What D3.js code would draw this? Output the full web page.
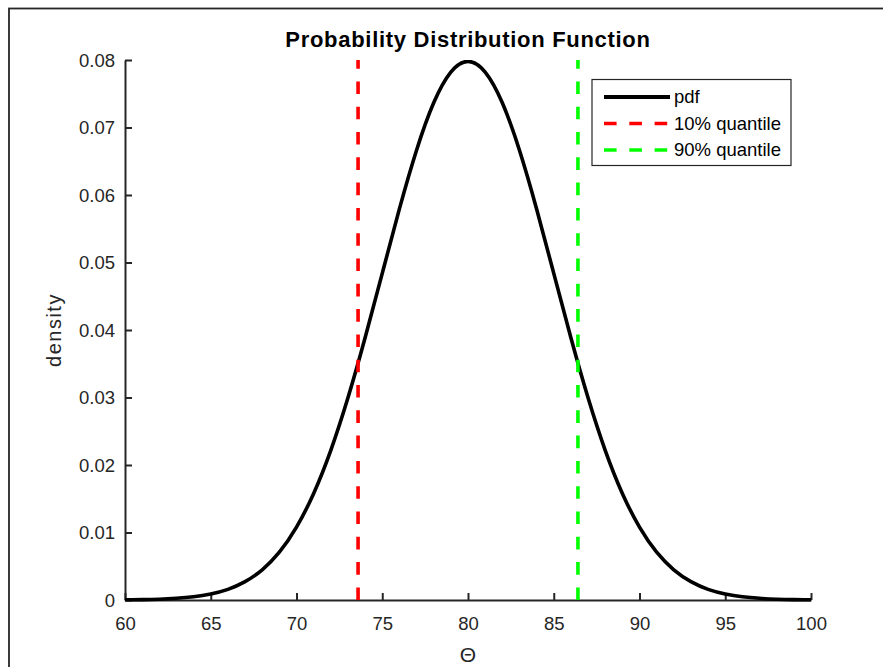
<!DOCTYPE html>
<html>
<head>
<meta charset="utf-8">
<script src="https://cdn.jsdelivr.net/npm/d3@7"></script>
<style>
  html, body { margin: 0; padding: 0; background: #fff; }
  svg { display: block; font-family: "Liberation Sans", Arial, Helvetica, sans-serif; }
</style>
</head>
<body>
<svg id="chart" width="883" height="667"></svg>
<script>
// ---- data ----
const thetaValues = [60,61,62,63,64,65,66,67,68,69,70,71,72,73,74,75,76,77,78,79,80,
                     81,82,83,84,85,86,87,88,89,90,91,92,93,94,95,96,97,98,99,100];
const densityValues = [0.00003,0.00006,0.00012,0.00025,0.00048,0.00089,0.00158,0.00272,0.00448,0.00709,0.01080,
                       0.01579,0.02218,0.02995,0.03884,0.04839,0.05794,0.06664,0.07366,0.07821,0.07979,
                       0.07821,0.07366,0.06664,0.05794,0.04839,0.03884,0.02995,0.02218,0.01579,0.01080,
                       0.00709,0.00448,0.00272,0.00158,0.00089,0.00048,0.00025,0.00012,0.00006,0.00003];
const quantile10 = 73.59;
const quantile90 = 86.41;
const xTicks = [60,65,70,75,80,85,90,95,100];
const yTicks = [0,0.01,0.02,0.03,0.04,0.05,0.06,0.07,0.08];
const legendLabels = ["pdf", "10% quantile", "90% quantile"];
const titleText = "Probability Distribution Function";
const xLabelText = "\u0398";
const yLabelText = "density";

(function () {
// ---- layout ----
const svg = d3.select("#chart");
const pL = 125, pR = 811, pT = 60, pB = 600;
const axisColor = "#262626";

const x = d3.scaleLinear().domain([60, 100]).range([pL, pR]);
const y = d3.scaleLinear().domain([0, 0.08]).range([pB, pT]);

// outer frame
svg.append("rect")
  .attr("x", 9).attr("y", 8.5).attr("width", 1000).attr("height", 1000)
  .attr("fill", "none").attr("stroke", axisColor).attr("stroke-width", 1.8);

// axes
const gx = svg.append("g").attr("transform", `translate(0,${pB})`)
  .call(d3.axisBottom(x).tickValues(xTicks).tickSizeInner(-7).tickSizeOuter(0).tickPadding(17)
        .tickFormat(d3.format("d")));
const gy = svg.append("g").attr("transform", `translate(${pL},0)`)
  .call(d3.axisLeft(y).tickValues(yTicks).tickSizeInner(-7).tickSizeOuter(0).tickPadding(10)
        .tickFormat(d => d === 0 ? "0" : d.toFixed(2)));

[gx, gy].forEach(g => {
  g.select(".domain").attr("stroke", axisColor).attr("stroke-width", 2);
  g.selectAll(".tick line").attr("stroke", axisColor).attr("stroke-width", 2);
  g.selectAll(".tick text").attr("fill", axisColor).style("font-size", "18.5px")
    .style("font-family", "'Liberation Sans', Arial, sans-serif");
});
gy.selectAll(".tick text").attr("dy", "0.34em");

// clip
svg.append("clipPath").attr("id", "plotclip")
  .append("rect").attr("x", pL - 4).attr("y", pT).attr("width", pR - pL + 8).attr("height", pB - pT + 4);

const plot = svg.append("g").attr("clip-path", "url(#plotclip)");

// pdf curve
const pts = thetaValues.map((t, i) => [t, densityValues[i]]);
plot.append("path")
  .datum(pts)
  .attr("fill", "none")
  .attr("stroke", "#000")
  .attr("stroke-width", 3.6)
  .attr("stroke-linejoin", "round")
  .attr("d", d3.line().x(d => x(d[0])).y(d => y(d[1])).curve(d3.curveNatural));

// quantile lines
const dash = "12.6,12.7";
plot.append("line")
  .attr("x1", x(quantile10)).attr("x2", x(quantile10))
  .attr("y1", y(0)).attr("y2", y(0.08))
  .attr("stroke", "#ff0000").attr("stroke-width", 3.6).attr("stroke-dasharray", dash);
plot.append("line")
  .attr("x1", x(quantile90)).attr("x2", x(quantile90))
  .attr("y1", y(0)).attr("y2", y(0.08))
  .attr("stroke", "#00ff00").attr("stroke-width", 3.6).attr("stroke-dasharray", dash);

// title
svg.append("text")
  .attr("x", (pL + pR) / 2).attr("y", 47)
  .attr("text-anchor", "middle")
  .style("font-size", "22px").style("font-weight", "bold").style("letter-spacing", "0.7px")
  .attr("fill", "#000")
  .text(titleText);

// x label
svg.append("text")
  .attr("x", (pL + pR) / 2).attr("y", 662)
  .attr("text-anchor", "middle")
  .style("font-size", "21px")
  .attr("fill", axisColor)
  .text(xLabelText);

// y label
svg.append("text")
  .attr("transform", `translate(61,${(pT + pB) / 2}) rotate(-90)`)
  .attr("text-anchor", "middle")
  .style("font-size", "20px").style("letter-spacing", "1.5px")
  .attr("fill", axisColor)
  .text(yLabelText);

// legend
const lg = svg.append("g");
lg.append("rect")
  .attr("x", 592).attr("y", 79.5).attr("width", 199).attr("height", 86)
  .attr("fill", "#fff").attr("stroke", axisColor).attr("stroke-width", 1.2);
const legendColors = ["#000", "#ff0000", "#00ff00"];
const legendDash = [null, dash, dash];
const legendWidths = [4.2, 3.6, 3.6];
const rowY = [97, 123.5, 150];
legendLabels.forEach((lab, i) => {
  lg.append("line")
    .attr("x1", 604).attr("x2", 670)
    .attr("y1", rowY[i]).attr("y2", rowY[i])
    .attr("stroke", legendColors[i]).attr("stroke-width", legendWidths[i])
    .attr("stroke-dasharray", legendDash[i]);
  lg.append("text")
    .attr("x", 674).attr("y", rowY[i]).attr("dy", "0.35em")
    .style("font-size", "18.5px").attr("fill", "#000")
    .text(lab);
});
})();
</script>
</body>
</html>
